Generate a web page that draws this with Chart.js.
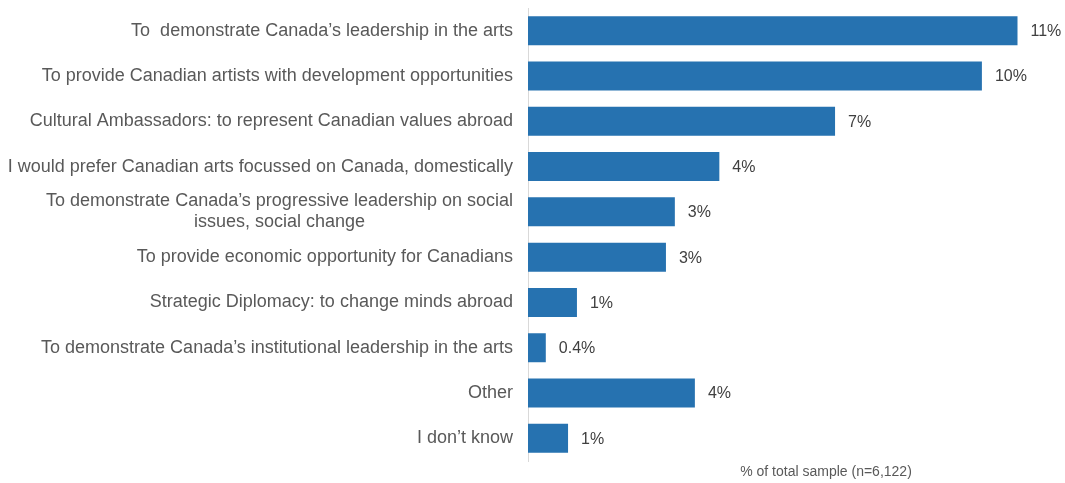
<!DOCTYPE html>
<html>
<head>
<meta charset="utf-8">
<script src="https://cdn.jsdelivr.net/npm/chart.js@4.4.1/dist/chart.umd.min.js"></script>
<style>
  html, body { margin: 0; padding: 0; background: #fff; }
  #chart { display: block; }
</style>
</head>
<body>
<canvas id="chart" width="1065" height="483"></canvas>
<script>
const categories = [
  "To  demonstrate Canada\u2019s leadership in the arts",
  "To provide Canadian artists with development opportunities",
  "Cultural Ambassadors: to represent Canadian values abroad",
  "I would prefer Canadian arts focussed on Canada, domestically",
  ["To demonstrate Canada\u2019s progressive leadership on social", "issues, social change"],
  "To provide economic opportunity for Canadians",
  "Strategic Diplomacy: to change minds abroad",
  "To demonstrate Canada\u2019s institutional leadership in the arts",
  "Other",
  "I don\u2019t know"
]
// % of total sample
const shares = [11.0, 10.2, 6.9, 4.3, 3.3, 3.1, 1.1, 0.4, 3.75, 0.9]
const sampleNote = "% of total sample (n=6,122)"

const FONT = "'Liberation Sans', Arial, sans-serif"

const fmtShare = v => (v < 0.5 ? v.toFixed(1) : Math.round(v)) + "%"

// category names drawn left of the axis; wrapped lines centred on each other
const categoryLabels = {
  id: "categoryLabels",
  afterDraw(chart) {
    const { ctx, scales: { y } } = chart
    const right = chart.chartArea.left - 15
    ctx.save()
    ctx.font = "18px " + FONT
    ctx.fillStyle = "#595959"
    ctx.textAlign = "center"
    ctx.textBaseline = "middle"
    const lineH = 21
    chart.data.labels.forEach((lab, i) => {
      const lines = Array.isArray(lab) ? lab : [lab]
      const w = Math.max(...lines.map(l => ctx.measureText(l).width))
      const cx = right - w / 2
      const y0 = y.getPixelForValue(i) - (lines.length - 1) * lineH / 2
      lines.forEach((l, k) => ctx.fillText(l, cx, y0 + k * lineH))
    })
    ctx.restore()
  }
}

// value labels at the end of each bar, plus the sample note
const valueLabels = {
  id: "valueLabels",
  afterDatasetsDraw(chart) {
    const { ctx } = chart
    const meta = chart.getDatasetMeta(0)
    ctx.save()
    ctx.font = "16px " + FONT
    ctx.fillStyle = "#404040"
    ctx.textAlign = "left"
    ctx.textBaseline = "middle"
    meta.data.forEach((bar, i) => {
      ctx.fillText(fmtShare(shares[i]), bar.x + 13, bar.y + 1)
    })
    ctx.font = "14px " + FONT
    ctx.fillStyle = "#595959"
    ctx.textAlign = "center"
    ctx.fillText(sampleNote, chart.chartArea.left + 298, 472)
    ctx.restore()
  }
}

new Chart(document.getElementById("chart"), {
  type: "bar",
  data: {
    labels: categories,
    datasets: [{
      data: shares,
      backgroundColor: "#2672B0",
      borderWidth: 0,
      barPercentage: 0.8,
      categoryPercentage: 0.8
    }]
  },
  options: {
    indexAxis: "y",
    responsive: false,
    animation: false,
    layout: { padding: { top: 8, bottom: 22, left: 0, right: 3 } },
    plugins: { legend: { display: false }, tooltip: { enabled: false } },
    scales: {
      x: { display: false, min: 0, max: 12 },
      y: {
        grid: { display: false },
        border: { display: true, color: "#d9d9d9", width: 1 },
        ticks: { display: false },
        afterFit(scale) { scale.width = 528 }
      }
    }
  },
  plugins: [categoryLabels, valueLabels]
})
</script>
</body>
</html>
